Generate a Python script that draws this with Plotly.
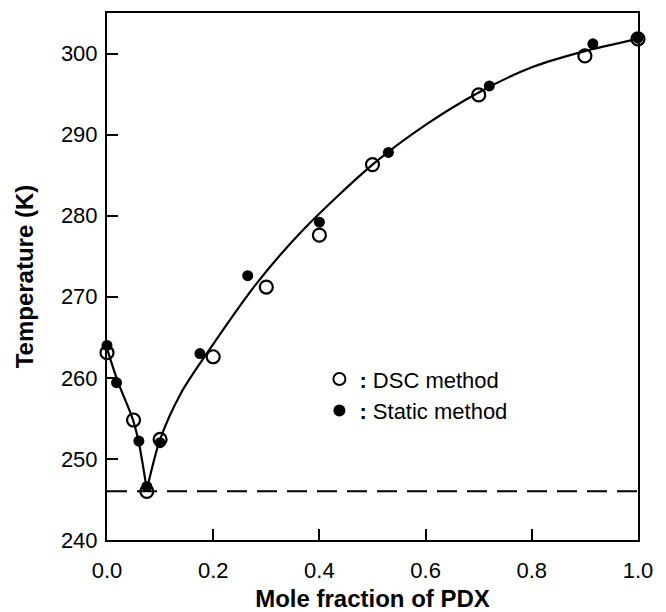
import plotly.graph_objects as go

# Measured melting temperatures (K) vs mole fraction of PDX
dsc_x = [0.0, 0.05, 0.075, 0.1, 0.2, 0.3, 0.4, 0.5, 0.7, 0.9, 1.0]
dsc_T = [263.1, 254.8, 246.0, 252.4, 262.6, 271.2, 277.6, 286.3, 294.9, 299.7, 301.8]

static_x = [0.0, 0.018, 0.06, 0.075, 0.1, 0.175, 0.265, 0.4, 0.53, 0.72, 0.915, 1.0]
static_T = [264.0, 259.4, 252.2, 246.6, 252.0, 263.0, 272.6, 279.2, 287.8, 296.0, 301.2, 301.9]

# Liquidus curve, left and right of the eutectic point
left_x = [0.0, 0.02, 0.048, 0.06, 0.075]
left_T = [263.6, 259.6, 255.0, 252.0, 246.2]
right_x = [0.075, 0.1, 0.14, 0.19, 0.28, 0.37, 0.5, 0.6, 0.7, 0.8, 0.9, 1.0]
right_T = [246.2, 252.4, 258.2, 263.2, 271.5, 278.3, 286.3, 291.2, 295.2, 298.3, 300.3, 301.8]

# Eutectic temperature line
eut_x = [0.0, 1.0]
eut_T = [246.0, 246.0]

x_ticks = [0.0, 0.2, 0.4, 0.6, 0.8, 1.0]
x_ticktext = ["0.0", "0.2", "0.4", "0.6", "0.8", "1.0"]
y_ticks = [240, 250, 260, 270, 280, 290, 300]

FONT = "Liberation Sans, Arial, sans-serif"

fig = go.Figure()

fig.add_trace(go.Scatter(
    x=eut_x, y=eut_T, mode="lines",
    line=dict(color="black", width=2, dash="20px,10px"),
    showlegend=False, hoverinfo="skip",
))
fig.add_trace(go.Scatter(
    x=dsc_x, y=dsc_T, mode="markers", name="<b>:</b>&nbsp;DSC method",
    marker=dict(symbol="circle-open", size=13, color="black", line=dict(width=2.2)),
    cliponaxis=False,
))
fig.add_trace(go.Scatter(
    x=static_x, y=static_T, mode="markers", name="<b>:</b>&nbsp;Static method",
    marker=dict(symbol="circle", size=11, color="black"),
    cliponaxis=False,
))
for cx, cy in ((left_x, left_T), (right_x, right_T)):
    fig.add_trace(go.Scatter(
        x=cx, y=cy, mode="lines",
        line=dict(color="black", width=2.2, shape="spline", smoothing=0.8),
        showlegend=False, hoverinfo="skip", cliponaxis=False,
    ))

fig.update_layout(
    width=666, height=612,
    margin=dict(l=107, r=28, t=13, b=72),
    paper_bgcolor="white", plot_bgcolor="white",
    font=dict(family=FONT, size=20, color="black"),
    legend=dict(
        x=0.40, y=0.345, xanchor="left", yanchor="top",
        bgcolor="rgba(0,0,0,0)", font=dict(size=22),
        itemsizing="constant", tracegroupgap=0, itemwidth=30,
    ),
    xaxis=dict(
        range=[0, 1], tickvals=x_ticks, ticktext=x_ticktext,
        ticks="inside", ticklen=11, tickwidth=2, tickcolor="black",
        showline=True, linewidth=2, linecolor="black", mirror=True,
        showgrid=False, zeroline=False, automargin=False,
        tickfont=dict(size=22), ticklabelstandoff=10,
        title=dict(text="<b>Mole fraction of PDX</b>", font=dict(size=24), standoff=14),
    ),
    yaxis=dict(
        range=[240, 305], tickvals=y_ticks,
        ticks="inside", ticklen=11, tickwidth=2, tickcolor="black",
        showline=True, linewidth=2, linecolor="black", mirror=True,
        showgrid=False, zeroline=False, automargin=False,
        tickfont=dict(size=22), ticklabelstandoff=3,
        title=dict(text="<b>Temperature (K)</b>", font=dict(size=24), standoff=20),
    ),
)

fig.write_html("out.html")
